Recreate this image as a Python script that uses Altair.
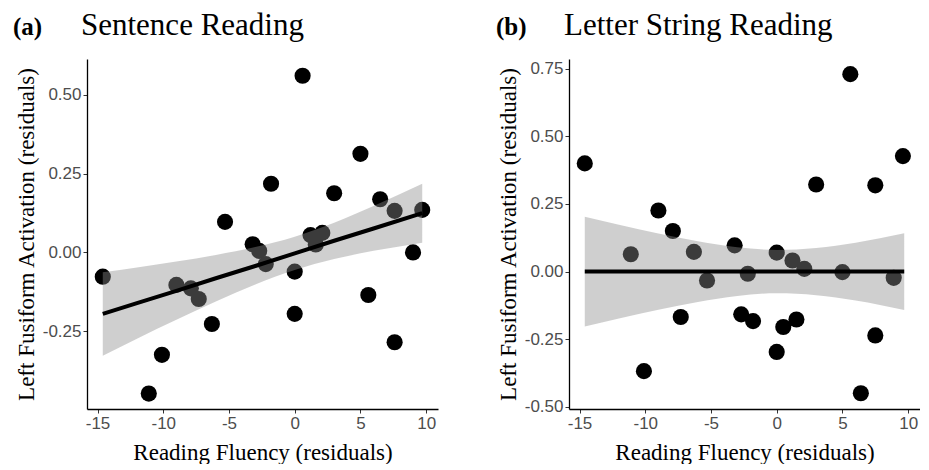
import altair as alt
import pandas as pd

# ---- data ----
# Panel (a): Sentence Reading
fluency_a = [-14.6, -11.1, -10.1, -9.0, -7.9, -7.3, -6.3, -5.3, -3.2, -2.7, -2.2, -1.8,
             0.0, 0.0, 0.6, 1.2, 1.6, 2.1, 3.0, 5.0, 5.6, 6.5, 7.6, 7.6, 9.0, 9.7]
activation_a = [-0.077, -0.448, -0.325, -0.103, -0.114, -0.148, -0.227, 0.097, 0.026, 0.005,
                -0.037, 0.218, -0.061, -0.195, 0.561, 0.055, 0.025, 0.062, 0.188, 0.313,
                -0.135, 0.169, -0.285, 0.132, 0.0, 0.135]

# Panel (b): Letter String Reading
fluency_b = [-14.6, -11.1, -10.1, -9.0, -7.9, -7.3, -6.3, -5.3, -3.2, -2.7, -2.2, -1.8,
             0.0, 0.0, 0.5, 1.2, 1.5, 2.1, 3.0, 5.0, 5.6, 6.4, 7.5, 7.5, 8.9, 9.6]
activation_b = [0.40, 0.064, -0.368, 0.226, 0.15, -0.168, 0.073, -0.033, 0.097, -0.158,
                -0.008, -0.183, 0.07, -0.297, -0.205, 0.041, -0.177, 0.01, 0.322, -0.002,
                0.73, -0.45, 0.319, -0.236, -0.023, 0.427]

# Fitted line and 95% confidence band
band_x = [-14.6, -12.0, -9.0, -6.0, -3.0, 0.0, 3.0, 6.0, 9.7]
fit_a = [-0.195, -0.161, -0.122, -0.082, -0.043, -0.003, 0.037, 0.076, 0.125]
lo_a = [-0.328, -0.274, -0.214, -0.156, -0.102, -0.056, -0.021, 0.005, 0.031]
hi_a = [-0.063, -0.048, -0.029, -0.008, 0.017, 0.050, 0.094, 0.147, 0.218]
fit_b = [0.0, 0.0, 0.0, 0.0, 0.0, 0.0, 0.0, 0.0, 0.0]
lo_b = [-0.203, -0.173, -0.141, -0.112, -0.090, -0.080, -0.087, -0.107, -0.142]
hi_b = [0.203, 0.173, 0.141, 0.112, 0.090, 0.080, 0.087, 0.107, 0.142]

x_ticks = [-15, -10, -5, 0, 5, 10]
y_ticks_a = [-0.25, 0.0, 0.25, 0.5]
y_ticks_b = [-0.5, -0.25, 0.0, 0.25, 0.5, 0.75]

X_TITLE = "Reading Fluency (residuals)"
Y_TITLE = "Left Fusiform Activation (residuals)"


def panel(xs, ys, fit, lo, hi, letter, title, ydom, yvals, letter_dx, title_dx):
    pts = pd.DataFrame({"x": xs, "y": ys})
    band = pd.DataFrame({"x": band_x, "y": fit, "lo": lo, "hi": hi})
    xscale = alt.Scale(domain=[-15.8, 10.9], nice=False, zero=False)
    yscale = alt.Scale(domain=ydom, nice=False, zero=False)
    xaxis = alt.Axis(values=x_ticks, title=X_TITLE,
                     labelExpr="replace(format(datum.value, 'd'), '\u2212', '-')")
    yaxis = alt.Axis(values=yvals, title=Y_TITLE,
                     labelExpr="replace(format(datum.value, '.2f'), '\u2212', '-')")

    def ex(field):
        return alt.X(f"{field}:Q", scale=xscale, axis=xaxis)

    def ey(field):
        return alt.Y(f"{field}:Q", scale=yscale, axis=yaxis)

    points = alt.Chart(pts).mark_circle(size=260, color="black", opacity=1).encode(
        x=ex("x"), y=ey("y"))
    area = alt.Chart(band).mark_area(color="#8c8c8c", opacity=0.42,
                                     interpolate="monotone").encode(
        x=ex("x"), y=ey("lo"), y2="hi:Q")
    line = alt.Chart(band).mark_line(color="black", strokeWidth=4).encode(
        x=ex("x"), y=ey("y"))
    lab = pd.DataFrame({"letter": [letter], "title": [title]})
    letter_txt = alt.Chart(lab).mark_text(
        align="left", baseline="alphabetic", font="Liberation Serif",
        fontSize=25, fontWeight="bold", color="black").encode(
        x=alt.value(letter_dx), y=alt.value(-24), text="letter:N")
    title_txt = alt.Chart(lab).mark_text(
        align="left", baseline="alphabetic", font="Liberation Serif",
        fontSize=31, fontWeight="normal", color="black").encode(
        x=alt.value(title_dx), y=alt.value(-24), text="title:N")
    return alt.layer(points, area, line, letter_txt, title_txt).properties(
        width=351, height=350)


left = panel(fluency_a, activation_a, fit_a, lo_a, hi_a, "(a)", "Sentence Reading",
             [-0.497, 0.614], y_ticks_a, -74, -6)
right = panel(fluency_b, activation_b, fit_b, lo_b, hi_b, "(b)", "Letter String Reading",
              [-0.508, 0.786], y_ticks_b, -73, -5)

chart = alt.hconcat(left, right, spacing=58).properties(
    padding={"left": 5, "top": 2, "right": 0, "bottom": 0}
).configure_view(stroke=None).configure_axis(
    grid=False, domainColor="black", domainWidth=1.3,
    tickColor="#333333", tickSize=4, tickWidth=1,
    labelFont="Liberation Sans", labelFontSize=17, labelColor="#4d4d4d", labelPadding=2,
    titleFont="Liberation Serif", titleFontSize=23, titleFontWeight="normal",
    titleColor="black"
).configure_axisY(titlePadding=4).configure_axisX(titlePadding=10)

chart.save("out.html", embed_options={"renderer": "svg", "actions": False})
